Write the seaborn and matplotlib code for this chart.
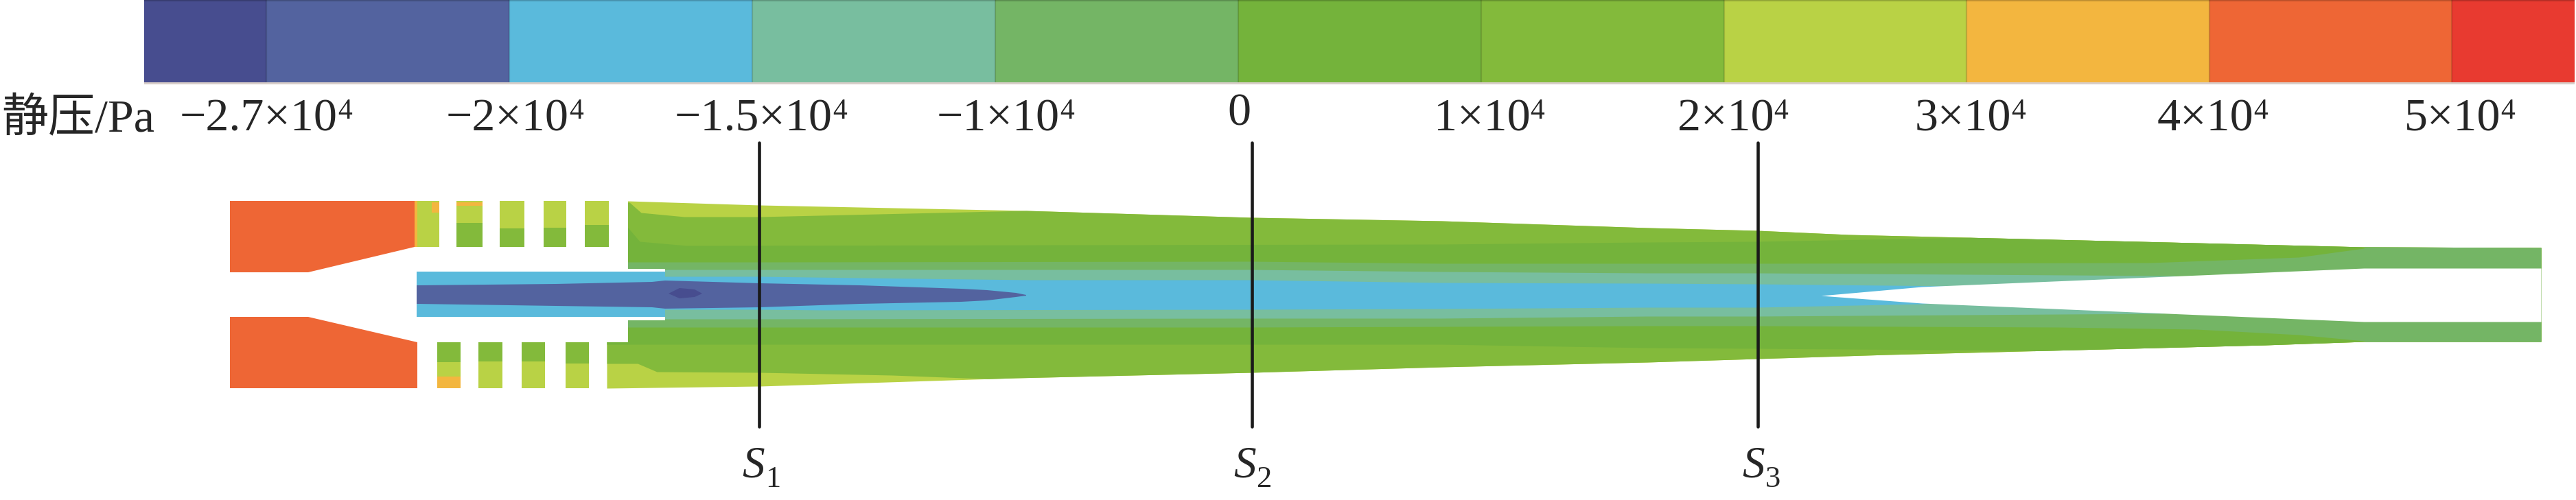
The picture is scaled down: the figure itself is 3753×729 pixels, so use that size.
import numpy as np
import pandas as pd
import seaborn as sns
import matplotlib.pyplot as plt

# colour bar
bar_edges = [210, 388, 742, 1096, 1450, 1804, 2158, 2512, 2865, 3219, 3572, 3751]
bar_colors = ["#474D8F", "#53639F", "#5ABADC", "#78BE9F", "#74B565", "#74B33B",
              "#83BA3B", "#B9D245", "#F3B63F", "#EE6635", "#E83A30"]
bar_labels = ["\u22122.7\u00d710", "\u22122\u00d710", "\u22121.5\u00d710", "\u22121\u00d710",
              "0", "1\u00d710", "2\u00d710", "3\u00d710", "4\u00d710", "5\u00d710"]
bar_powers = ["4", "4", "4", "4", "", "4", "4", "4", "4", "4"]
label_x = [262, 650, 983, 1365, 1788, 2089, 2444, 2790, 3143, 3503]

# section lines
section_x = [1106, 1824, 2561]
section_names = ["S", "S", "S"]
section_subs = ["1", "2", "3"]
section_label_x = [1081, 1797, 2538]

# outer wall of the mixing tube
wall_top_x = [884, 915, 1107, 1495, 1823, 2100, 2400, 2560, 2693, 3116, 3444, 3702]
wall_top_y = [293, 293, 299, 307, 317, 322, 332, 336, 342, 352, 360, 361]
wall_bot_x = [884, 1107, 1480, 1823, 2100, 2400, 2560, 2750, 3300, 3444, 3702]
wall_bot_y = [566, 563, 551, 543, 535, 528, 523, 517, 503, 498, 498]

# contour boundaries, outermost band first: (colour, top x, top y, bottom x, bottom y)
bands = [
    ("#83BA3B",
     [884, 917, 934, 997, 1107, 1495, 1600], [295, 295, 310, 316, 316, 307, 280],
     [884, 929, 957, 1107, 1300, 1457, 1600], [530, 530, 542, 543, 547, 553, 580]),
    ("#74B33B",
     [884, 915, 932, 1000, 2100, 2400, 2560, 2880, 3000], [332, 332, 352, 358, 356, 353, 352, 346, 300],
     [884, 1100, 2100, 2400, 2560, 2960, 3100], [502, 502, 502, 507, 508, 511, 540]),
    ("#74B565",
     [884, 1107, 1823, 2100, 2400, 2560, 3133, 3349, 3444, 3460], [382, 382, 381, 384, 384, 384, 383, 375, 362, 300],
     [884, 1823, 2400, 2560, 3000, 3200, 3349, 3444, 3460], [477, 477, 475, 475, 477, 480, 488, 497, 540]),
    ("#78BE9F",
     [884, 1107, 1823, 2100, 2400, 2560, 3168, 3300], [393, 393, 393, 396, 398, 398, 402, 432],
     [884, 1107, 1823, 2100, 2400, 2560, 3150, 3300], [465, 465, 464, 464, 461, 461, 457, 430]),
    ("#5ABADC",
     [884, 1107, 1253, 1500, 1823, 2100, 2400, 2560, 2849, 2950], [403, 403, 405, 408, 408, 412, 413, 414, 417, 432],
     [884, 1107, 1200, 1823, 2100, 2400, 2560, 2800, 2950], [451, 451, 452, 451, 450, 448, 448, 443, 430]),
]

# annular gap at the exit
gap_x = [2653, 2800, 3444, 3702]
gap_top = [431, 418, 391, 391]
gap_bot = [431, 442, 469, 469]

# central jet
jet_x = [607, 810, 950, 969, 1107, 1253, 1400, 1438, 1480, 1495]
jet_top = [416, 414, 411, 409, 413, 416, 421, 423, 427, 430]
jet_bot = [443, 446, 448, 450, 448, 443, 440, 438, 433, 431]

# nozzle blocks
nozzle_top_x = [335, 604, 604, 449, 335]
nozzle_top_y = [293, 293, 360, 397, 397]
nozzle_bot_x = [335, 449, 608, 608, 335]
nozzle_bot_y = [462, 462, 499, 566, 566]

# slots: left, right, and y of the colour changes
slots_top_x = [(604, 640), (665, 703), (728, 764), (792, 825), (852, 887)]
slots_top_split = [360, 325, 333, 332, 328]
slots_bot_x = [(637, 671), (697, 732), (760, 794), (824, 858)]
slots_bot_split = [528, 527, 527, 530]

sns.set_theme(style="white")
plt.rcParams["font.family"] = ["Liberation Serif", "Noto Sans CJK SC", "DejaVu Sans"]

fig = plt.figure(figsize=(37.53, 7.29), dpi=100)
ax = fig.add_axes([0, 0, 1, 1])
ax.set_xlim(0, 3753)
ax.set_ylim(729, 0)
ax.axis("off")
ax.set_zorder(2)

# colour bar drawn as a weighted histogram on its own axes
bar_ax = fig.add_axes([0, 1 - 120 / 729, 1, 120 / 729])
centers = [(a + b) / 2 for a, b in zip(bar_edges[:-1], bar_edges[1:])]
bar_df = pd.DataFrame({"x": centers, "h": 1.0, "level": [str(i) for i in range(len(centers))]})
sns.histplot(data=bar_df, x="x", weights="h", hue="level", bins=bar_edges,
             palette=dict(zip(bar_df["level"], bar_colors)), alpha=1, linewidth=0,
             legend=False, ax=bar_ax)
bar_ax.set_xlim(0, 3753)
bar_ax.set_ylim(0, 1)
bar_ax.axis("off")
ax.fill_between([210, 3751], 120, 123, color="#D8CEC9", lw=0)
ax.fill_between([210, 3751], 0, 2, color="black", alpha=0.2, lw=0)
ax.vlines(bar_edges[1:-1], 0, 120, color="black", alpha=0.14, linewidth=1.6)

ax.text(2, 192, "\u9759\u538b/Pa", fontsize=49, va="baseline", ha="left")
for xp, lab, power in zip(label_x, bar_labels, bar_powers):
    t = ax.text(xp, 190 if lab != "0" else 182, lab, fontsize=49, va="baseline", ha="left")
    if power:
        ax.annotate(power, xy=(1, 1), xycoords=t, fontsize=30, va="top", ha="left")

# mixing tube
grid = np.arange(884, 3703)
wt = np.interp(grid, wall_top_x, wall_top_y)
wb = np.interp(grid, wall_bot_x, wall_bot_y)
ax.fill_between(grid, wt, wb, color="#B9D245", lw=0)
for color, tx, ty, bx, by in bands:
    top = np.maximum(np.interp(grid, tx, ty), wt)
    bot = np.minimum(np.interp(grid, bx, by), wb)
    mask = bot > top
    ax.fill_between(grid[mask], top[mask], bot[mask], color=color, lw=0)

# white cut outs
ax.fill_between([884, 915], 285, 499, color="white", lw=0)
ax.fill_between([884, 969], 392, 467, color="white", lw=0)
ax.fill_between(gap_x, gap_top, gap_bot, color="white", lw=0)

# jet
ax.fill_between([607, 969], 396, 462, color="#5ABADC", lw=0)
ax.fill(jet_x + jet_x[::-1], jet_top + jet_bot[::-1], color="#53639F", lw=0)
ax.fill([974, 990, 1012, 1023, 1012, 990], [428, 420, 422, 428, 433, 435], color="#474D8F", lw=0)

# nozzle
ax.fill(nozzle_top_x, nozzle_top_y, color="#EE6635", lw=0)
ax.fill(nozzle_bot_x, nozzle_bot_y, color="#EE6635", lw=0)

# slots
for (a, b), s in zip(slots_top_x, slots_top_split):
    ax.fill_between([a, b], 293, 360, color="#83BA3B", lw=0)
    ax.fill_between([a, b], 293, s, color="#B9D245", lw=0)
ax.fill_between([629, 640], 295, 310, color="#F3B63F", lw=0)
ax.fill_between([604, 608], 293, 360, color="#F3B63F", lw=0)
ax.fill_between([665, 703], 295, 300, color="#F3B63F", lw=0)
for (a, b), s in zip(slots_bot_x, slots_bot_split):
    ax.fill_between([a, b], 499, 566, color="#B9D245", lw=0)
    ax.fill_between([a, b], 499, s, color="#83BA3B", lw=0)
ax.fill_between([637, 671], 549, 566, color="#F3B63F", lw=0)

# section lines and their labels
for sx, name, sub, lx in zip(section_x, section_names, section_subs, section_label_x):
    sns.lineplot(x=[sx, sx], y=[208, 622], color="#1a1a1a", linewidth=3.3, ax=ax,
                 legend=False, estimator=None, sort=False)
    ax.text(lx, 695, name, fontsize=47, style="italic", va="baseline", ha="left")
    ax.text(lx + 34, 710, sub, fontsize=32, va="baseline", ha="left")

ax.set_xlim(0, 3753)
ax.set_ylim(729, 0)
ax.axis("off")

fig.savefig("out.png", dpi=100)
